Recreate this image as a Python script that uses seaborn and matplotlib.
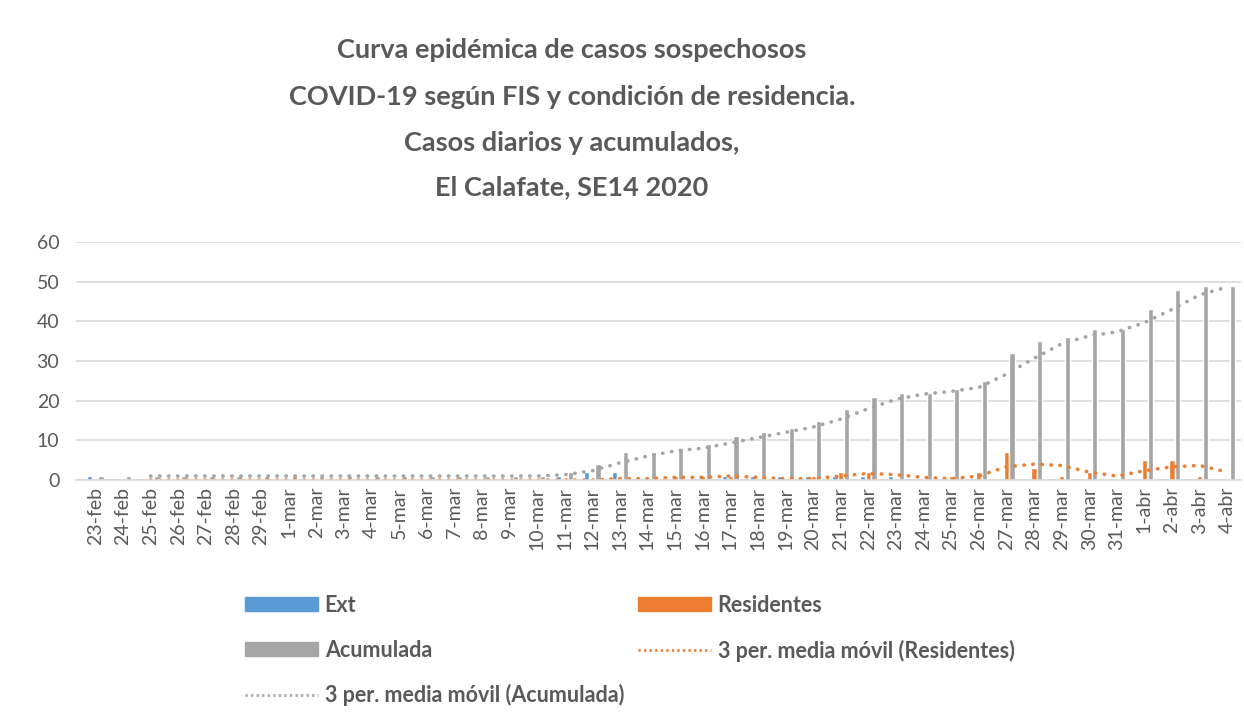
import numpy as np
import pandas as pd
import matplotlib
matplotlib.use("Agg")
import matplotlib.pyplot as plt
from matplotlib.patches import Patch
from matplotlib.lines import Line2D
import seaborn as sns

# fechas de inicio de sintomas (FIS)
fechas = (["%d-feb" % d for d in range(23, 30)]
          + ["%d-mar" % d for d in range(1, 32)]
          + ["%d-abr" % d for d in range(1, 5)])

# casos diarios por condicion de residencia
ext = [1, 0, 0, 0, 0, 0, 0, 0, 0, 0, 0, 0, 0, 0, 0, 0, 0,
       1, 2, 2, 0, 0, 0, 1, 1, 1, 1, 1, 1, 1, 0, 0, 0,
       0, 0, 0, 0, 0, 0, 0, 0, 0]
residentes = [0, 0, 0, 0, 0, 0, 0, 0, 0, 0, 0, 0, 0, 0, 0, 0, 0,
              0, 0, 1, 0, 1, 1, 1, 0, 0, 1, 2, 2, 0, 0, 1, 2,
              7, 3, 1, 2, 0, 5, 5, 1, 0]
acumulada = [1, 1, 1, 1, 1, 1, 1, 1, 1, 1, 1, 1, 1, 1, 1, 1, 1,
             2, 4, 7, 7, 8, 9, 11, 12, 13, 15, 18, 21, 22, 22, 23, 25,
             32, 35, 36, 38, 38, 43, 48, 49, 49]

c_ext = "#5B9BD5"
c_res = "#ED7D31"
c_acu = "#A5A5A5"
txt = "#595959"
grid = "#D9D9D9"

df = pd.DataFrame({"fecha": fechas, "Ext": ext, "Residentes": residentes, "Acumulada": acumulada})
largo = df.melt(id_vars="fecha", var_name="serie", value_name="casos")

# media movil de 3 periodos (linea de tendencia)
ma_res = df["Residentes"].rolling(3).mean()
ma_acu = df["Acumulada"].rolling(3).mean()

sns.set_style("white")
plt.rcParams["font.family"] = ["Lato", "DejaVu Sans"]

fig = plt.figure(figsize=(12.44, 7.25), dpi=100)
ax = fig.add_axes([76 / 1244, 1 - 480 / 725, (1241 - 76) / 1244, (480 - 242) / 725])

sns.barplot(data=largo, x="fecha", y="casos", hue="serie", order=fechas,
            hue_order=["Ext", "Residentes", "Acumulada"],
            palette=[c_ext, c_res, c_acu], width=0.62, gap=0.1,
            saturation=1, errorbar=None, legend=False, ax=ax)

x = np.arange(len(fechas))
dot = (0, (0.1, 2.4))
sns.lineplot(x=x, y=ma_res, color=c_res, linewidth=2.6, linestyle=dot,
             dash_capstyle="round", ax=ax)
sns.lineplot(x=x, y=ma_acu, color=c_acu, linewidth=2.6, linestyle=dot,
             dash_capstyle="round", ax=ax)

ax.set_xlim(-0.7, len(fechas) - 0.5)
ax.set_ylim(0, 60)
ax.set_yticks(range(0, 61, 10))
ax.yaxis.grid(True, color=grid, linewidth=1.2)
ax.set_axisbelow(True)
ax.set_xlabel("")
ax.set_ylabel("")
for s in ["top", "right", "left"]:
    ax.spines[s].set_visible(False)
ax.spines["bottom"].set_color(grid)
ax.spines["bottom"].set_linewidth(1.2)

ax.set_xticks(x)
ax.set_xticklabels(fechas, rotation=90, fontsize=14, color=txt)
ax.set_xticks(np.arange(-0.5, len(fechas), 1), minor=True)
ax.tick_params(axis="x", which="major", length=0, pad=5)
ax.tick_params(axis="x", which="minor", length=5, color=grid, width=1.2)
ax.tick_params(axis="y", length=0, pad=12, labelsize=14, labelcolor=txt)

titulo = ["Curva epidémica de casos sospechosos",
          "COVID-19 según FIS y condición de residencia.",
          "Casos diarios y acumulados,",
          "El Calafate, SE14 2020"]
for linea, yp in zip(titulo, [50, 97, 143, 187]):
    fig.text(572 / 1244, 1 - yp / 725, linea, ha="center", va="center",
             fontsize=19.5, fontweight="bold", color=txt)

# leyenda (orden por columnas para que quede por filas)
h_ext = Patch(color=c_ext)
h_res = Patch(color=c_res)
h_acu = Patch(color=c_acu)
h_mres = Line2D([], [], color=c_res, linewidth=2, linestyle=(0, (0.8, 1.2)))
h_macu = Line2D([], [], color=c_acu, linewidth=2, linestyle=(0, (0.8, 1.2)))
handles = [h_ext, h_acu, h_macu, h_res, h_mres]
labels = ["Ext", "Acumulada", "3 per. media móvil (Acumulada)",
          "Residentes", "3 per. media móvil (Residentes)"]
leg = fig.legend(handles, labels, ncol=2, loc="upper left",
                 bbox_to_anchor=(245 / 1244, 1 - 595 / 725),
                 frameon=False, borderpad=0, borderaxespad=0,
                 handlelength=3.4, handleheight=0.62, handletextpad=0.3,
                 labelspacing=1.1, columnspacing=0.65,
                 prop={"size": 15.5, "weight": "bold"})
for t in leg.get_texts():
    t.set_color(txt)

fig.savefig("out.png", dpi=100, facecolor="white")
